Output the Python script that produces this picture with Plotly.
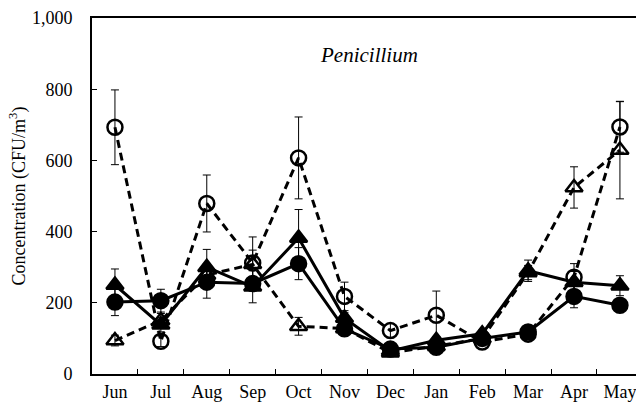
import plotly.graph_objects as go

months = ["Jun", "Jul", "Aug", "Sep", "Oct", "Nov", "Dec", "Jan", "Feb", "Mar", "Apr", "May"]

s1_vals = [202, 206, 258, 254, 310, 127, 70, 75, 100, 118, 218, 193]
s1_err = [38, 32, 45, 20, 45, 15, 10, 10, 10, 10, 32, 12]

s2_vals = [250, 138, 300, 245, 382, 157, 65, 95, 113, 290, 258, 248]
s2_err = [45, 20, 50, 45, 80, 15, 10, 10, 10, 30, 30, 28]

s3_vals = [693, 92, 479, 312, 607, 218, 122, 165, 90, 112, 272, 694]
s3_err = [105, 15, 80, 73, 115, 40, 20, 68, 10, 10, 38, 71]

s4_vals = [94, 150, 278, 308, 134, 128, 60, 78, 100, 285, 524, 629]
s4_err = [15, 20, 30, 40, 25, 15, 10, 10, 10, 20, 58, 137]

y_ticks = [0, 200, 400, 600, 800, 1000]
y_tick_text = ["0", "200", "400", "600", "800", "1,000"]

FONT = "Times New Roman, Liberation Serif, DejaVu Serif, serif"

series = [
    (s1_vals, s1_err, "solid", "circle", 15),
    (s2_vals, s2_err, "solid", "triangle-up", 15),
    (s3_vals, s3_err, "dash", "circle-open", 15),
    (s4_vals, s4_err, "dash", "triangle-up-open", 15),
]

fig = go.Figure()
for vals, err, dash, sym, size in series:
    fig.add_trace(go.Scatter(
        x=months, y=vals, mode="lines+markers",
        line=dict(color="black", width=3, dash="8px,5px" if dash == "dash" else "solid"),
        marker=dict(symbol=sym, size=size, color="black", line=dict(color="black", width=2.5)),
        error_y=dict(type="data", array=err, visible=True, color="black", thickness=1, width=4),
        showlegend=False,
    ))

fig.add_annotation(
    text="<i>Penicillium</i>", xref="paper", yref="paper", x=0.509, y=0.896,
    xanchor="center", yanchor="middle",
    showarrow=False, font=dict(family=FONT, size=21, color="black"),
)

fig.update_layout(
    width=636, height=410,
    margin=dict(l=92, r=0, t=18, b=36),
    paper_bgcolor="white", plot_bgcolor="white",
    font=dict(family=FONT, size=18, color="black"),
    xaxis=dict(
        type="category", range=[-0.5, 11.35],
        showline=True, linecolor="black", linewidth=2, mirror=True,
        ticks="inside", ticklen=5, tickcolor="black", tickwidth=1,
        tickson="boundaries", showgrid=False, zeroline=False,
        tickfont=dict(family=FONT, size=18),
    ),
    yaxis=dict(
        range=[0, 1000], tickvals=y_ticks, ticktext=y_tick_text,
        showline=True, linecolor="black", linewidth=2, mirror=False,
        ticks="inside", ticklen=5, tickcolor="black", tickwidth=1,
        showgrid=False, zeroline=False, ticklabelstandoff=14,
        title=dict(text="Concentration (CFU/m<sup>3</sup>)", font=dict(family=FONT, size=18), standoff=2),
        tickfont=dict(family=FONT, size=18),
    ),
)

fig.write_html("out.html")
